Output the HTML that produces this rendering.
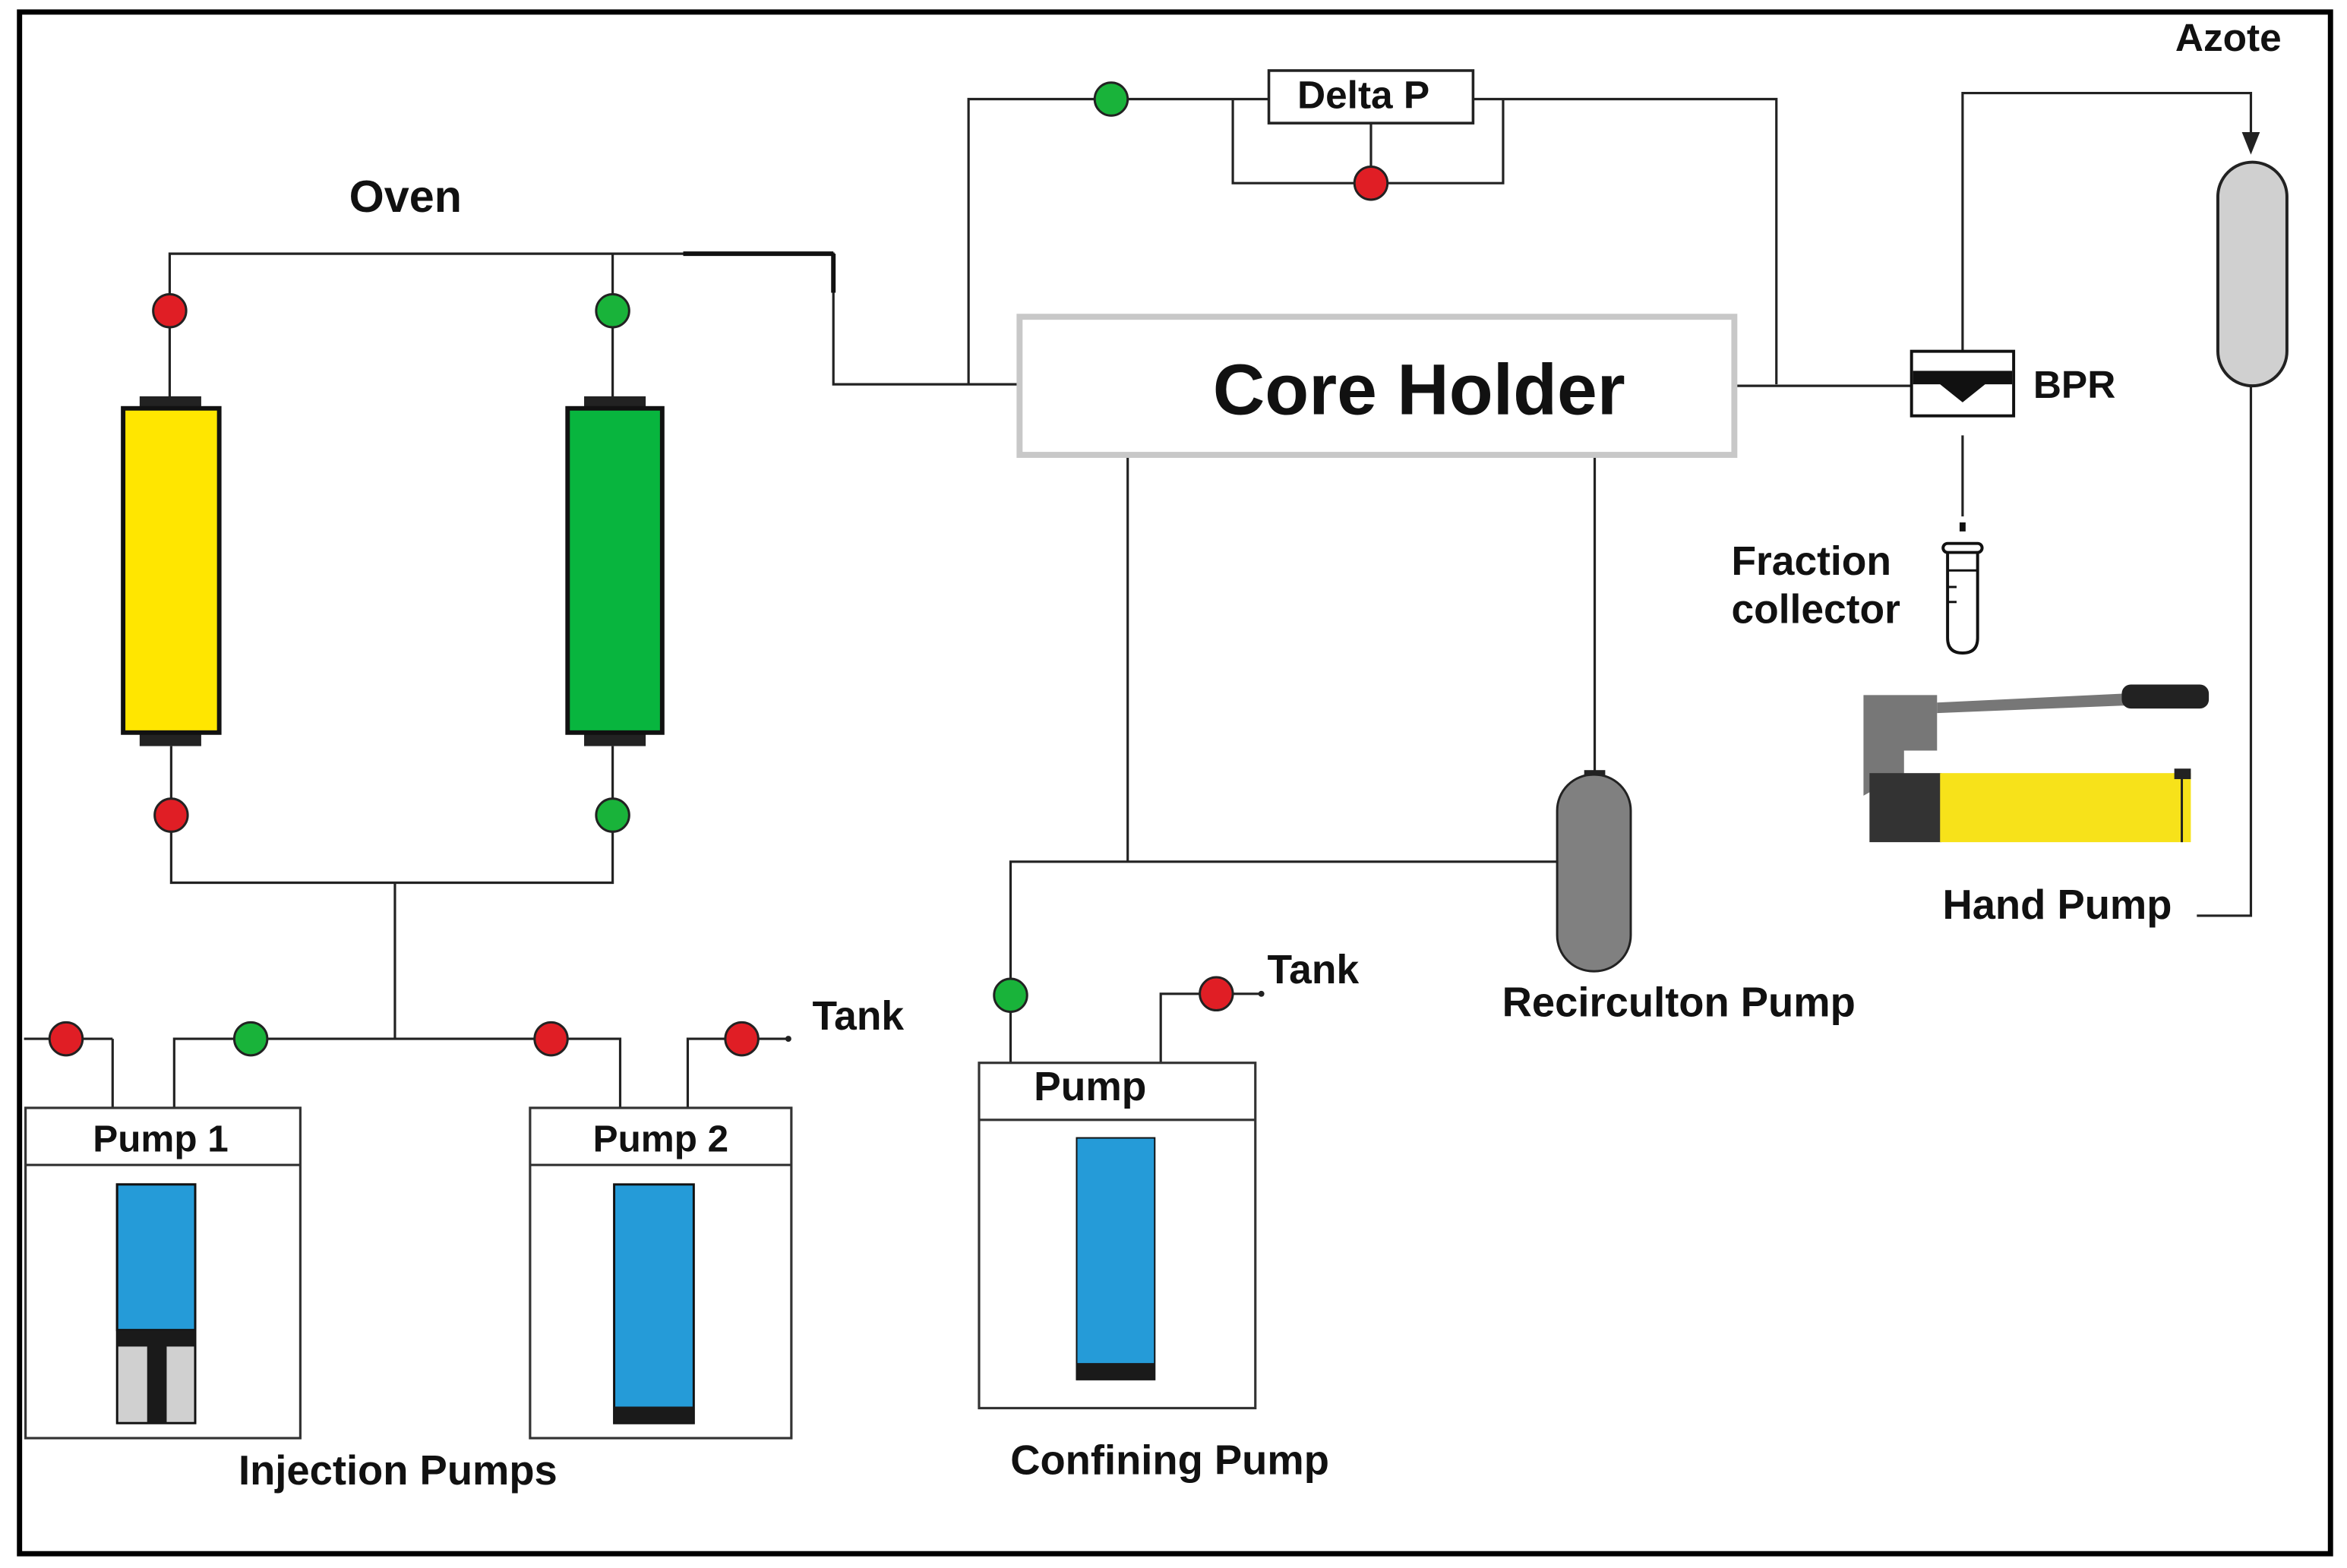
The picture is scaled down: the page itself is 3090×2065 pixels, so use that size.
<!DOCTYPE html>
<html><head><meta charset="utf-8"><style>
html,body{margin:0;padding:0;background:#fff;}
svg{display:block;}
text{font-family:"Liberation Sans",Arial,sans-serif;font-weight:bold;fill:#111;}
</style></head><body>
<svg width="3090" height="2065" viewBox="0 0 1563 1044.5" xmlns="http://www.w3.org/2000/svg">
<rect x="0" y="0" width="1563" height="1044.5" fill="#fff"/>
<rect x="13" y="8" width="1539" height="1027" fill="none" stroke="#000" stroke-width="3.5"/>
<g fill="none" stroke="#222" stroke-width="1.6">
<polyline points="113,272 113,169 555,169"/>
<polyline points="455,169 555,169 555,256 678,256" />
<line x1="408" y1="169" x2="408" y2="272"/>
<polyline points="645,256 645,66 845,66"/>
<polyline points="821,66 821,122 1001,122 1001,66"/>
<line x1="913" y1="82" x2="913" y2="122"/>
<polyline points="981,66 1183,66 1183,256"/>
<line x1="1155" y1="257" x2="1273" y2="257"/>
<polyline points="1307,234 1307,62 1499,62 1499,95"/>
<polyline points="1499,257 1499,610 1463,610"/>
<line x1="1307" y1="290" x2="1307" y2="344"/>
<polyline points="114,497 114,588 408,588 408,497"/>
<line x1="263" y1="588" x2="263" y2="692"/>
<line x1="16" y1="692" x2="75" y2="692"/>
<line x1="75" y1="692" x2="75" y2="738"/>
<polyline points="116,738 116,692 413,692 413,738"/>
<polyline points="458,738 458,692 525,692"/>
<polyline points="673,708 673,574 1037,574"/>
<line x1="751" y1="303" x2="751" y2="574"/>
<polyline points="773,708 773,662 840,662"/>
<line x1="1062" y1="303" x2="1062" y2="516"/>
</g>
<line x1="455" y1="169" x2="555" y2="169" stroke="#111" stroke-width="3"/>
<line x1="555" y1="169" x2="555" y2="195" stroke="#111" stroke-width="3"/>
<polygon points="1493,88 1505,88 1499,103" fill="#222"/>
<circle cx="525" cy="692" r="2" fill="#222"/>
<circle cx="840" cy="662" r="2" fill="#222"/>

<rect x="845" y="47" width="136" height="35" fill="#fff" stroke="#222" stroke-width="1.8"/>
<text x="908" y="72" font-size="26" text-anchor="middle">Delta P</text>

<rect x="679" y="211" width="476" height="92" fill="#fff" stroke="#c8c8c8" stroke-width="4"/>
<text x="945" y="276" font-size="48" text-anchor="middle">Core Holder</text>

<rect x="1273" y="234" width="68" height="43" fill="#fff" stroke="#111" stroke-width="2"/>
<polygon points="1274,247 1340,247 1340,256 1322,256 1307,268 1292,256 1274,256" fill="#111"/>
<text x="1354" y="265" font-size="26">BPR</text>

<text x="1484" y="34" font-size="26" text-anchor="middle">Azote</text>
<rect x="1477" y="108" width="46" height="149" rx="23" fill="#d0d0d0" stroke="#222" stroke-width="2"/>

<rect x="1305" y="348" width="4" height="6" fill="#111"/>
<path d="M1297,367 L1297,425 Q1297,435 1307,435 Q1317,435 1317,425 L1317,367" fill="#fff" stroke="#111" stroke-width="2"/>
<rect x="1294" y="362" width="26" height="6" rx="3" fill="#fff" stroke="#111" stroke-width="2"/>
<g stroke="#111" stroke-width="1.5"><line x1="1297" y1="380" x2="1317" y2="380"/><line x1="1297" y1="391" x2="1303" y2="391"/><line x1="1297" y1="401" x2="1303" y2="401"/></g>
<text x="1153" y="383" font-size="27">Fraction</text>
<text x="1153" y="415" font-size="27">collector</text>

<path d="M1241,463 L1290,463 L1290,500 L1268,500 L1268,515 L1241,530 Z" fill="#777"/>
<polygon points="1290,468 1415,462 1415,470 1290,475" fill="#777"/>
<rect x="1413" y="456" width="58" height="16" rx="6" fill="#222"/>
<rect x="1245" y="515" width="48" height="46" fill="#333"/>
<rect x="1292" y="515" width="167" height="46" fill="#f7e21a"/>
<rect x="1448" y="512" width="11" height="7" fill="#222"/>
<line x1="1453" y1="518" x2="1453" y2="561" stroke="#222" stroke-width="1.5"/>
<text x="1370" y="612" font-size="27.5" text-anchor="middle">Hand Pump</text>

<text x="270" y="141" font-size="30" text-anchor="middle">Oven</text>
<rect x="93" y="264" width="41" height="10" fill="#222"/>
<rect x="93" y="487" width="41" height="10" fill="#222"/>
<rect x="82" y="272" width="64" height="216" fill="#ffe600" stroke="#111" stroke-width="3"/>
<rect x="389" y="264" width="41" height="10" fill="#222"/>
<rect x="389" y="487" width="41" height="10" fill="#222"/>
<rect x="378" y="272" width="63" height="216" fill="#08b53e" stroke="#111" stroke-width="3"/>

<g stroke="#222" stroke-width="1.5">
<circle cx="740" cy="66" r="11" fill="#19b33a"/>
<circle cx="913" cy="122" r="11" fill="#e01e25"/>
<circle cx="113" cy="207" r="11" fill="#e01e25"/>
<circle cx="408" cy="207" r="11" fill="#19b33a"/>
<circle cx="114" cy="543" r="11" fill="#e01e25"/>
<circle cx="408" cy="543" r="11" fill="#19b33a"/>
<circle cx="44" cy="692" r="11" fill="#e01e25"/>
<circle cx="167" cy="692" r="11" fill="#19b33a"/>
<circle cx="367" cy="692" r="11" fill="#e01e25"/>
<circle cx="494" cy="692" r="11" fill="#e01e25"/>
<circle cx="673" cy="663" r="11" fill="#19b33a"/>
<circle cx="810" cy="662" r="11" fill="#e01e25"/>
</g>
<text x="541" y="686" font-size="27">Tank</text>
<text x="844" y="655" font-size="27">Tank</text>

<rect x="17" y="738" width="183" height="220" fill="#fff" stroke="#333" stroke-width="1.6"/>
<line x1="17" y1="776" x2="200" y2="776" stroke="#333" stroke-width="1.6"/>
<text x="107" y="767" font-size="25" text-anchor="middle">Pump 1</text>
<rect x="78" y="789" width="52" height="159" fill="#d0d0d0" stroke="#111" stroke-width="1.5"/>
<rect x="78" y="789" width="52" height="97" fill="#259bd8" stroke="#111" stroke-width="1.5"/>
<rect x="78" y="886" width="52" height="11" fill="#1a1a1a"/>
<rect x="98" y="896" width="13" height="52" fill="#1a1a1a"/>

<rect x="353" y="738" width="174" height="220" fill="#fff" stroke="#333" stroke-width="1.6"/>
<line x1="353" y1="776" x2="527" y2="776" stroke="#333" stroke-width="1.6"/>
<text x="440" y="767" font-size="25" text-anchor="middle">Pump 2</text>
<rect x="409" y="789" width="53" height="159" fill="#259bd8" stroke="#111" stroke-width="1.5"/>
<rect x="409" y="937" width="53" height="11" fill="#1a1a1a"/>
<text x="265" y="989" font-size="27.5" text-anchor="middle">Injection Pumps</text>

<rect x="652" y="708" width="184" height="230" fill="#fff" stroke="#333" stroke-width="1.6"/>
<line x1="652" y1="746" x2="836" y2="746" stroke="#333" stroke-width="1.6"/>
<text x="726" y="733" font-size="27" text-anchor="middle">Pump</text>
<rect x="717" y="758" width="52" height="161" fill="#259bd8" stroke="#111" stroke-width="1"/>
<rect x="717" y="908" width="52" height="11" fill="#1a1a1a"/>
<text x="779" y="982" font-size="27.5" text-anchor="middle">Confining Pump</text>

<rect x="1055" y="513" width="14" height="6" fill="#222"/>
<rect x="1037" y="516" width="49" height="131" rx="24" fill="#808080" stroke="#222" stroke-width="1.5"/>
<text x="1118" y="677" font-size="27.5" text-anchor="middle">Recirculton Pump</text>
</svg>
</body></html>
